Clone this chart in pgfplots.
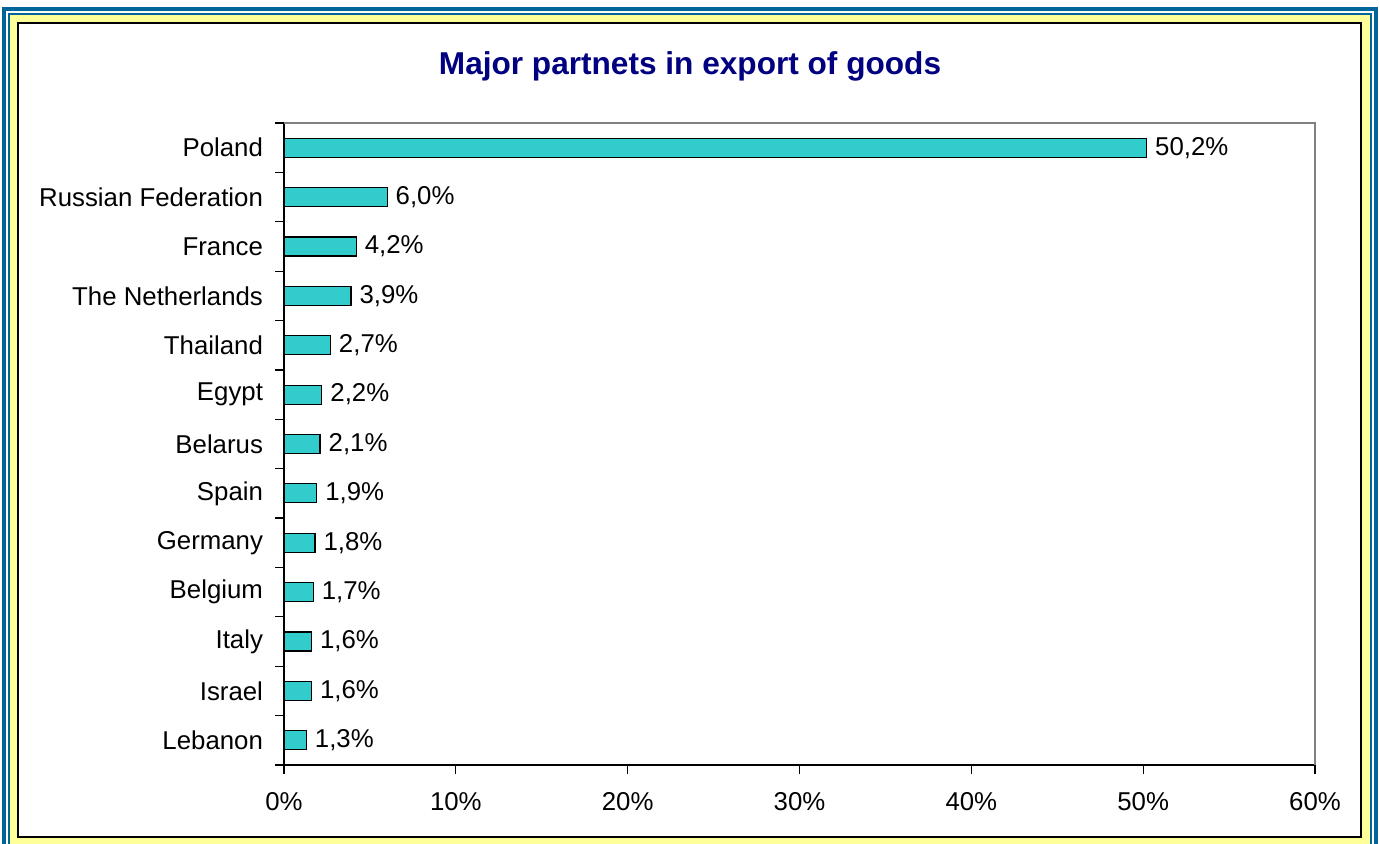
\documentclass[border=0pt]{standalone}
\usepackage{pgfplots}
\pgfplotsset{compat=1.18}
\usepackage{fontspec}
\setmainfont{Liberation Sans}
\definecolor{framblue}{RGB}{0,102,153}
\definecolor{framyellow}{RGB}{255,255,153}
\definecolor{barcol}{RGB}{51,204,204}
\definecolor{titlenavy}{RGB}{0,0,128}
\begin{document}
\begin{tikzpicture}
\useasboundingbox (0,0) rectangle (690pt,421.5pt);
\begin{scope}[x=0.5pt,y=-0.5pt,shift={(0,421.5pt)}]
  \fill[framyellow] (9,14) rectangle (1371,860);
  \draw[framblue,line width=2pt] (4,9) rectangle (1376,870);
  \draw[framblue,line width=1pt] (9,14) rectangle (1371,860);
  \fill[white] (18,23) rectangle (1361,837);
  \draw[black,line width=1.2pt] (18,23) rectangle (1361,837);
  \node[anchor=base,font=\fontsize{15.8}{18}\selectfont\bfseries,text=titlenavy] at (690,74) {Major partnets in export of goods};
\end{scope}
\begin{axis}[
  at={(142pt,39pt)}, anchor=south west,
  scale only axis, width=515.5pt, height=321pt,
  xbar, bar width=9.5pt,
  xmin=0, xmax=60, ymin=-0.5, ymax=12.5,
  axis x line=bottom, axis y line=left,
  axis line style={-, black, line width=0.6pt},
  xtick={0,10,...,60},
  xticklabel={\pgfmathprintnumber{\tick}\%},
  ytick={0,...,12},
  yticklabels={Lebanon,Israel,Italy,Belgium,Germany,Spain,Belarus,Egypt,Thailand,The Netherlands,France,Russian Federation,Poland},
  minor ytick={-0.5,0.5,...,12.5},
  tick align=outside,
  major tick length=4.5pt,
  minor tick length=4.5pt,
  every major y tick/.append style={draw=none},
  every minor y tick/.append style={draw=black, line width=0.6pt},
  every major x tick/.append style={draw=black, line width=0.6pt},
  /pgf/number format/assume math mode=true,
  ticklabel style={font=\fontsize{12.9}{15}\selectfont},
  yticklabel style={xshift=-2.5pt},
  xticklabel style={yshift=-5.5pt},
  nodes near coords={\pgfmathprintnumber[fixed,fixed zerofill,precision=1,use comma]{\pgfplotspointmeta}\%},
  every node near coord/.append style={font=\fontsize{12.9}{15}\selectfont, inner sep=0pt, xshift=4pt, black},
  clip=false,
]
\addplot[fill=barcol, draw=black, line width=0.6pt] coordinates {
  (1.3,0) (1.6,1) (1.6,2) (1.7,3) (1.8,4) (1.9,5) (2.1,6) (2.2,7) (2.7,8) (3.9,9) (4.2,10) (6.0,11) (50.2,12)
};
\draw[gray, line width=0.7pt] (rel axis cs:0,1) -- (rel axis cs:1,1) -- (rel axis cs:1,0);
\end{axis}
\end{tikzpicture}
\end{document}
